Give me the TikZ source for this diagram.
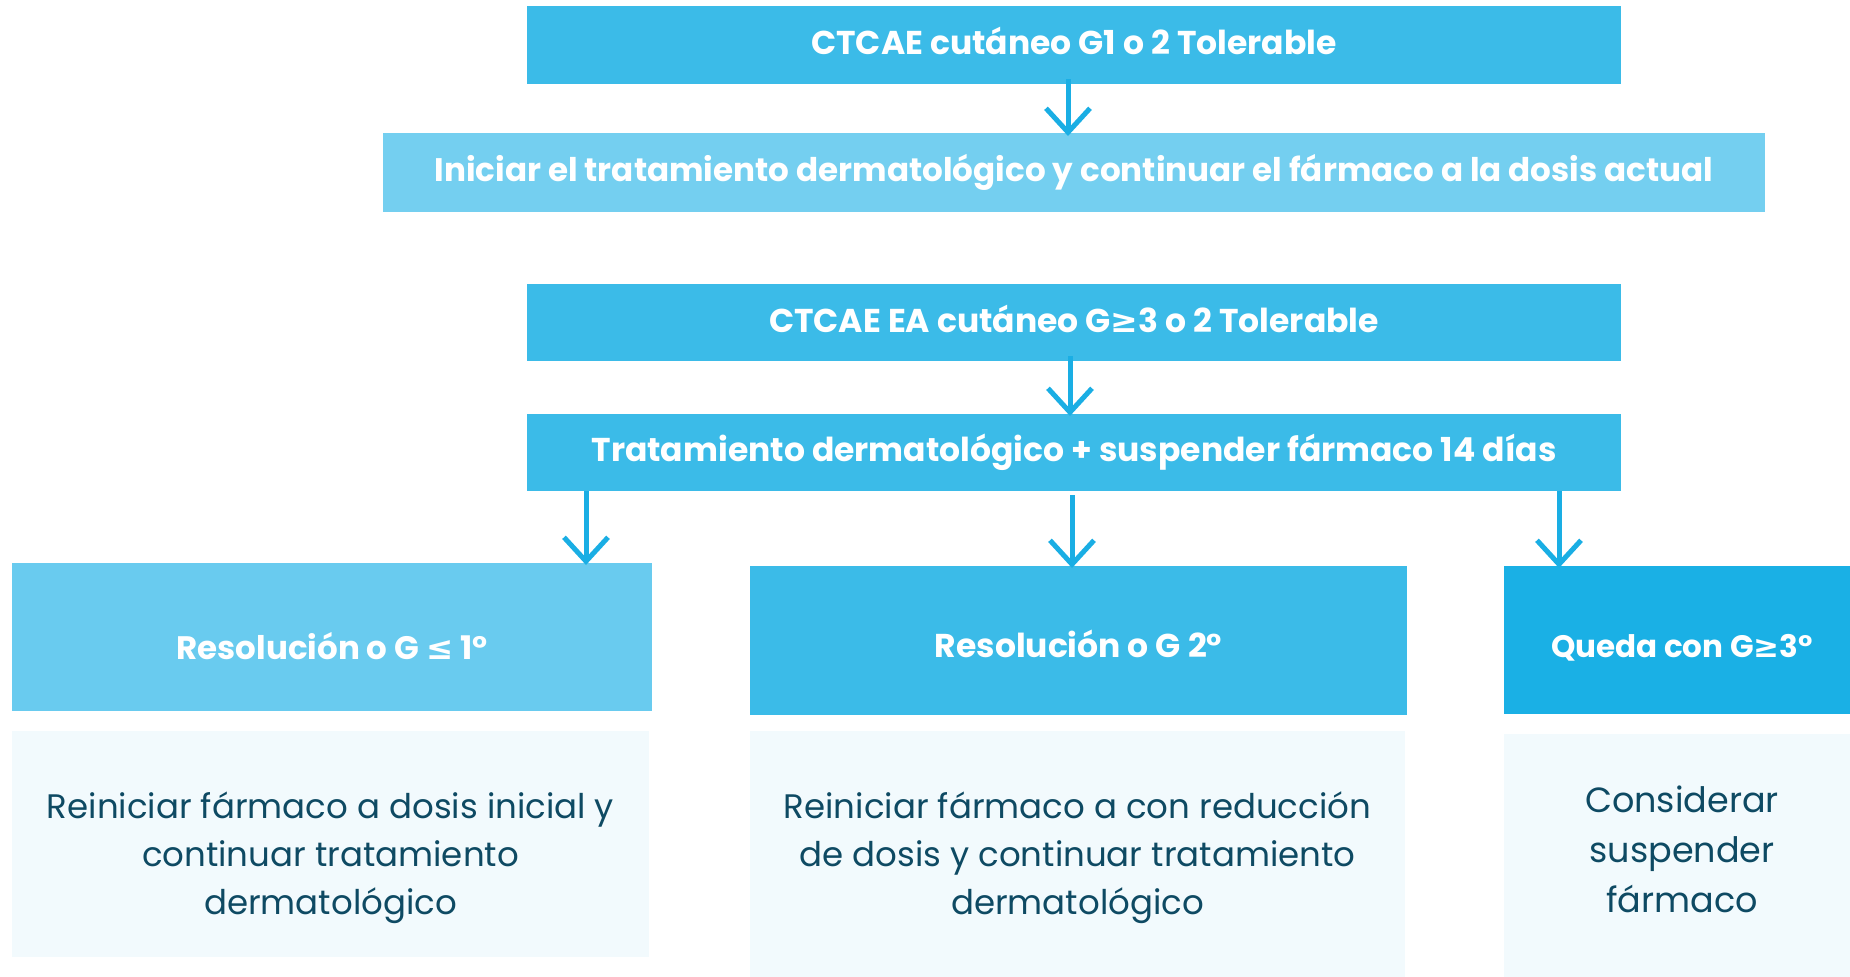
\documentclass[tikz,border=0pt]{standalone}
\usepackage{fontspec}
\usetikzlibrary{arrows.meta}
\newfontfamily\hfont{Poppins}
\newfontfamily\bfont{Poppins}
\newfontfamily\symfont{DejaVu Sans}
\definecolor{cA}{HTML}{3BBBE8}
\definecolor{cB}{HTML}{74CFF0}
\definecolor{cL}{HTML}{69CBEF}
\definecolor{cR}{HTML}{1AB0E5}
\definecolor{cBody}{HTML}{F2FAFD}
\definecolor{cTxt}{HTML}{0E4A63}
\definecolor{cArr}{HTML}{1AAEE4}
\tikzset{
  hbox/.style={fill=cA, draw=none, inner sep=0pt, text=white, font=\hfont\bfseries\fontsize{33}{38}\selectfont},
  dbox/.style={fill=cBody, draw=none, inner sep=0pt},
  dtxt/.style={align=center, text=cTxt, font=\bfont\fontsize{34}{48}\selectfont, inner sep=0pt},
  conn/.style={draw=cArr, line width=5pt, -{Straight Barb[length=24pt,width=44pt]}},
}
\begin{document}
\begin{tikzpicture}[x=1pt,y=-1pt]
\useasboundingbox (0,0) rectangle (1850,977);
% top boxes
\node[hbox, minimum width=1094, minimum height=78] (b1) at (1074,45) {};
\node[hbox, fill=none] (t0) at (1074,41) {CTCAE cutáneo G1 o 2 Tolerable};
\node[hbox, fill=cB, minimum width=1382, minimum height=79] (b2) at (1074,172.5) {};
\node[hbox, fill=none, font=\hfont\bfseries\fontsize{32.6}{38}\selectfont] (t2a) at (1074,172.5) {Iniciar el tratamiento dermatológico y continuar el fármaco a la dosis actual};
\node[hbox, minimum width=1094, minimum height=77] (b3) at (1074,322.5) {};
\node[hbox, fill=none] (t3a) at (1074,319) {CTCAE EA cutáneo G{\symfont\bfseries ≥}3 o 2 Tolerable};
\node[hbox, minimum width=1094, minimum height=77] (b4) at (1074,452.5) {Tratamiento dermatológico + suspender fármaco 14 días};
% headers
\node[hbox, fill=cL, minimum width=640, minimum height=148] (h1) at (332,637) {};
\node[hbox, minimum width=657, minimum height=149] (h2) at (1078.5,640.5) {};
\node[hbox, fill=cR, minimum width=346, minimum height=148] (h3) at (1677,640) {};
\node[hbox, fill=none, font=\hfont\bfseries\fontsize{32.5}{38}\selectfont] (t1) at (332,646) {Resolución o G {\symfont\bfseries ≤} 1°};
\node[hbox, fill=none] (t2) at (1078.5,644) {Resolución o G 2°};
\node[hbox, fill=none, font=\hfont\bfseries\fontsize{31}{38}\selectfont] (t3) at (1682,647.5) {Queda con G{\symfont\bfseries ≥}3°};
% bodies
\node[dbox, minimum width=637, minimum height=226] (d1) at (330.5,844) {};
\node[dbox, minimum width=655, minimum height=246] (d2) at (1077.5,854) {};
\node[dbox, minimum width=346, minimum height=243] (d3) at (1677,855.5) {};
\node[dtxt] (e1) at (330.5,858) {Reiniciar fármaco a dosis inicial y\\continuar tratamiento\\dermatológico};
\node[dtxt] (e2) at (1077.5,858) {Reiniciar fármaco a con reducción\\de dosis y continuar tratamiento\\dermatológico};
\node[dtxt, font=\bfont\fontsize{35}{50}\selectfont] (e3) at (1682,849) {Considerar\\suspender\\fármaco};
% connectors
\coordinate (a1s) at (1068,79); \coordinate (a1e) at (1068,136);
\coordinate (a2s) at (1070,356); \coordinate (a2e) at (1070,416);
\coordinate (a3s) at (586,491); \coordinate (a3e) at (586,565);
\coordinate (a4s) at (1072,495); \coordinate (a4e) at (1072,568);
\coordinate (a5s) at (1559,491); \coordinate (a5e) at (1559,568);
\draw[conn] (a1s) -- (a1e);
\draw[conn] (a2s) -- (a2e);
\draw[conn] (a3s) -- (a3e);
\draw[conn] (a4s) -- (a4e);
\draw[conn] (a5s) -- (a5e);
\end{tikzpicture}
\end{document}
